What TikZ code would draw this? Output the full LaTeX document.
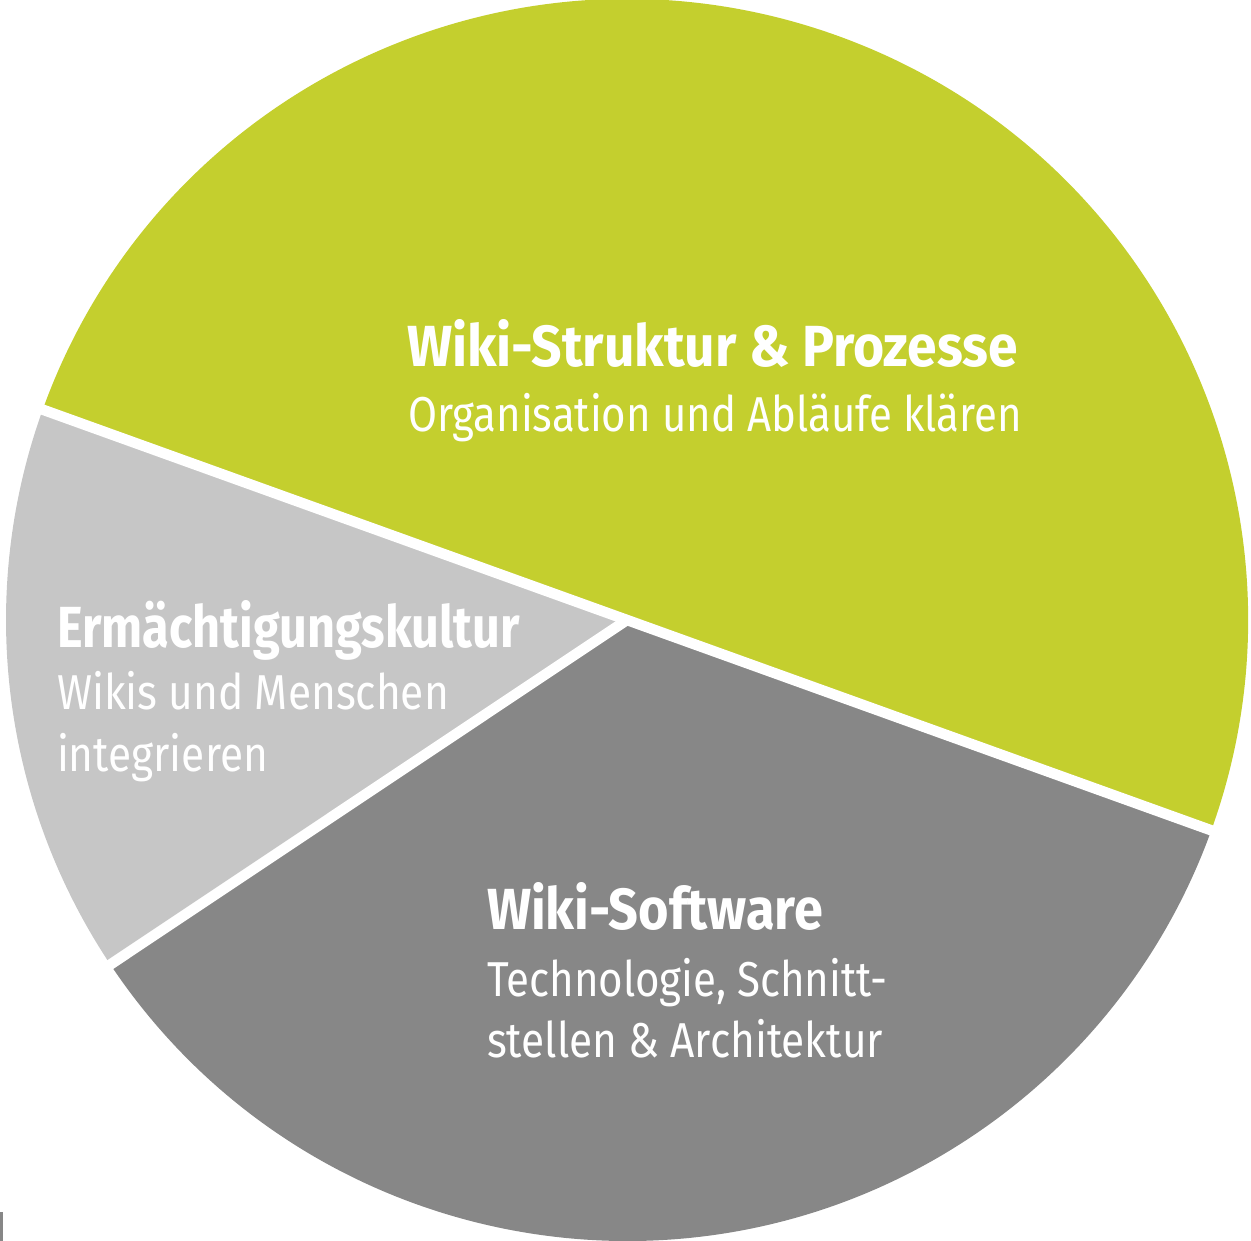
\documentclass[tikz,border=0pt]{standalone}
\usepackage{fontspec}
\usetikzlibrary{calc}
\setmainfont{Fira Sans}
\definecolor{wgreen}{RGB}{196,207,46}
\definecolor{wlight}{RGB}{198,198,198}
\definecolor{wdark}{RGB}{135,135,135}
\newcommand\fitw[2]{\resizebox{#1}{\height}{#2}}
\newcommand\titlesize{\fontsize{58}{58}\selectfont\bfseries}
\newcommand\subsize{\fontsize{49}{49}\selectfont}
\begin{document}
\begin{tikzpicture}[x=1pt,y=1pt,
  lbl/.style={anchor=base west, inner sep=0pt, outer sep=0pt, text=white},
  sep/.style={draw=white, line width=10.5pt}]
\useasboundingbox (0,0) rectangle (1251,1241);
\coordinate (c) at (627,621);
\fill[wgreen] (c) -- ++(-19.8:621) arc[start angle=-19.8, end angle=160.2, radius=621] -- cycle;
\fill[wlight] (c) -- ++(160.2:621) arc[start angle=160.2, end angle=213.7, radius=621] -- cycle;
\fill[wdark] (c) -- ++(213.7:621) arc[start angle=213.7, end angle=340.2, radius=621] -- cycle;
\coordinate (e1) at ($(c)+(160.2:640)$);
\coordinate (e2) at ($(c)+(-19.8:640)$);
\coordinate (e3) at ($(c)+(213.7:640)$);
\draw[sep] (e1) -- (e2);
\draw[sep] (c) -- (e3);
\fill[wdark] (0,0) rectangle (2.5,29);
% labels
\node[lbl] (t1) at (407,874) {\titlesize\fitw{611pt}{Wiki-Struktur \& Prozesse}};
\node[lbl] (s1) at (408,809) {\subsize\fitw{614pt}{Organisation und Abläufe klären}};
\node[lbl] (t2) at (57,593) {\titlesize\fitw{463pt}{Ermächtigungskultur}};
\node[lbl] (s2a) at (57,531) {\subsize\fitw{392pt}{Wikis und Menschen}};
\node[lbl] (s2b) at (57,469) {\subsize\fitw{211pt}{integrieren}};
\node[lbl] (t3) at (487,311) {\titlesize\fitw{336pt}{Wiki-Software}};
\node[lbl] (s3a) at (487,244) {\subsize\fitw{400pt}{Technologie, Schnitt-}};
\node[lbl] (s3b) at (487,183) {\subsize\fitw{396pt}{stellen \& Architektur}};
\end{tikzpicture}
\end{document}
